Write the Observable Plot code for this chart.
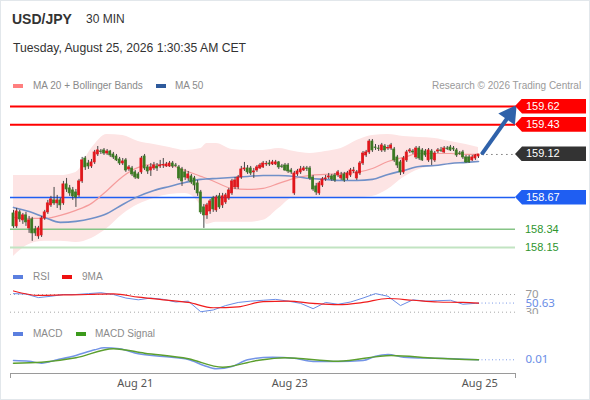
<!DOCTYPE html>
<html>
<head>
<meta charset="utf-8">
<script src="https://cdn.jsdelivr.net/npm/d3@7"></script>
<script src="https://cdn.jsdelivr.net/npm/@observablehq/plot@0.6"></script>
<style>
html,body{margin:0;padding:0;background:#fff;}
#wrap{position:relative;width:590px;height:400px;overflow:hidden;background:#fff;font-family:"Liberation Sans",Arial,Helvetica,sans-serif;}
.abs{position:absolute;white-space:nowrap;}
.sw{position:absolute;width:10px;height:4px;}
.lg{position:absolute;white-space:nowrap;font-size:10px;color:#8a8a8a;line-height:12px;}
.lbl{position:absolute;left:515px;width:71px;height:15px;line-height:15px;color:#fff;font-size:11px;padding-left:11px;box-sizing:border-box;clip-path:polygon(0 50%,7px 0,100% 0,100% 100%,7px 100%);}
.sup{position:absolute;left:525px;font-size:11px;line-height:14px;color:#2e952e;}
#frame{position:absolute;left:0;top:0;width:590px;height:400px;box-sizing:border-box;border:1px solid #e2e7eb;pointer-events:none;}
svg{position:absolute;left:0;}
</style>
</head>
<body>
<div id="wrap">
  <div class="abs" style="left:12px;top:11px;font-size:14px;font-weight:bold;color:#333;line-height:16px">USD/JPY</div>
  <div class="abs" style="left:86px;top:11px;font-size:12px;color:#333;line-height:16px">30 MIN</div>
  <div class="abs" style="left:13px;top:40px;font-size:12.2px;color:#333;line-height:16px">Tuesday, August 25, 2026 1:30:35 AM CET</div>

  <div class="sw" style="left:13px;top:84px;background:#ff7f7f"></div>
  <div class="lg" style="left:33px;top:80px">MA 20 + Bollinger Bands</div>
  <div class="sw" style="left:156px;top:84px;background:#2e5a9c"></div>
  <div class="lg" style="left:175px;top:80px">MA 50</div>
  <div class="lg" style="left:432px;top:80px;color:#9a9a9a">Research © 2026 Trading Central</div>

  <div class="sw" style="left:13px;top:275px;background:#5b7fdf"></div>
  <div class="lg" style="left:33px;top:271px">RSI</div>
  <div class="sw" style="left:62px;top:275px;background:#ee1111"></div>
  <div class="lg" style="left:82px;top:271px">9MA</div>

  <div class="sw" style="left:13px;top:332px;background:#5b7fdf"></div>
  <div class="lg" style="left:33px;top:328px">MACD</div>
  <div class="sw" style="left:76px;top:332px;background:#3c9a1c"></div>
  <div class="lg" style="left:95px;top:328px">MACD Signal</div>
</div>
<script>
// ---------- DATA ----------
const candleOpen = [
158.505,158.370,158.516,158.433,158.485,158.349,158.443,158.339,158.266,158.276,
158.453,158.516,158.589,158.641,158.610,158.641,158.610,158.808,158.766,158.745,
158.724,158.693,158.839,159.078,159.026,158.995,159.037,159.120,159.151,159.162,
159.130,159.151,159.120,159.099,159.068,159.026,159.058,158.964,158.974,158.933,
158.912,158.933,159.099,158.985,158.953,158.974,158.995,158.995,159.005,158.995,
158.995,159.026,159.005,158.985,158.964,158.933,158.870,158.891,158.870,158.818,
158.724,158.568,158.485,158.526,158.662,158.537,158.683,158.589,158.620,158.662,
158.714,158.776,158.776,158.880,158.964,158.974,158.974,158.933,158.953,158.974,
158.985,159.016,159.026,159.016,159.016,159.037,158.995,159.005,159.005,158.953,
158.714,158.912,158.933,158.953,158.974,158.974,158.880,158.787,158.714,158.797,
158.860,158.880,158.891,158.901,158.901,158.870,158.912,158.870,158.901,158.943,
158.870,158.922,159.026,159.110,159.141,159.255,159.193,159.182,159.162,159.203,
159.182,159.182,159.172,159.089,159.037,158.933,159.058,159.151,159.151,159.089,
159.182,159.162,159.151,159.058,159.151,159.058,159.151,159.162,159.141,159.182,
159.193,159.182,159.162,159.130,159.141,159.089,159.089,159.058,159.078,159.099];
const candleHigh = [
158.537,158.557,158.537,158.505,158.516,158.474,158.464,158.370,158.370,158.474,
158.537,158.641,158.683,158.776,158.693,158.662,158.839,158.870,158.797,158.776,
158.755,158.860,159.089,159.099,159.058,159.068,159.162,159.203,159.172,159.182,
159.172,159.162,159.141,159.120,159.089,159.078,159.078,159.005,158.995,158.953,
158.933,159.099,159.120,159.005,159.026,159.037,159.026,159.058,159.078,159.037,
159.047,159.047,159.026,159.005,158.985,158.964,158.943,158.912,158.891,158.849,
158.745,158.599,158.610,158.651,158.683,158.693,158.714,158.714,158.714,158.766,
158.860,158.880,158.901,158.995,159.037,159.005,158.995,158.974,159.005,159.026,
159.047,159.047,159.058,159.058,159.058,159.047,159.016,159.026,159.026,158.974,
158.943,158.964,158.995,158.995,158.995,158.995,158.901,158.818,158.839,158.880,
158.901,158.922,158.912,158.922,158.953,158.933,158.933,158.943,158.974,158.985,
158.953,159.047,159.151,159.162,159.276,159.276,159.224,159.214,159.235,159.224,
159.214,159.235,159.193,159.110,159.058,159.099,159.162,159.182,159.172,159.203,
159.203,159.182,159.172,159.182,159.172,159.151,159.182,159.193,159.203,159.203,
159.214,159.203,159.182,159.151,159.162,159.110,159.110,159.110,159.120,159.120];
const candleLow = [
158.349,158.349,158.412,158.391,158.370,158.297,158.214,158.266,158.235,158.255,
158.433,158.495,158.568,158.589,158.557,158.537,158.589,158.724,158.683,158.641,
158.568,158.672,158.818,158.953,158.964,158.974,159.016,159.099,159.120,159.110,
159.110,159.089,159.068,159.047,159.005,159.005,158.933,158.943,158.891,158.860,
158.860,158.912,158.953,158.912,158.891,158.953,158.943,158.974,158.974,158.985,
158.985,158.974,158.985,158.849,158.787,158.849,158.839,158.808,158.745,158.683,
158.495,158.349,158.443,158.495,158.516,158.516,158.547,158.557,158.599,158.641,
158.693,158.755,158.755,158.860,158.943,158.912,158.901,158.870,158.933,158.964,
158.974,158.995,158.995,159.005,159.005,158.964,158.974,158.943,158.922,158.912,
158.693,158.891,158.912,158.943,158.943,158.849,158.735,158.693,158.693,158.776,
158.839,158.860,158.839,158.828,158.880,158.849,158.828,158.849,158.880,158.922,
158.849,158.901,159.005,159.089,159.120,159.141,159.162,159.151,159.141,159.141,
159.162,159.162,159.037,158.974,158.901,158.912,159.037,159.130,159.120,159.068,
159.058,159.047,159.089,159.037,159.005,159.037,159.130,159.141,159.130,159.162,
159.151,159.151,159.089,159.110,159.068,159.026,159.026,159.047,159.058,159.078];
const candleClose = [
158.370,158.526,158.443,158.485,158.412,158.433,158.297,158.297,158.349,158.453,
158.516,158.610,158.651,158.610,158.641,158.589,158.808,158.755,158.714,158.683,
158.672,158.839,159.058,158.985,158.995,159.037,159.141,159.162,159.146,159.130,
159.151,159.110,159.089,159.058,159.026,159.047,158.953,158.985,158.912,158.880,
158.870,159.078,158.974,158.943,158.985,159.005,158.974,159.005,159.011,159.016,
159.026,158.995,159.000,158.870,158.839,158.880,158.912,158.828,158.797,158.714,
158.516,158.485,158.589,158.630,158.547,158.672,158.568,158.683,158.693,158.745,
158.839,158.849,158.880,158.964,158.974,158.933,158.922,158.943,158.985,159.005,
159.026,159.021,159.016,159.037,159.037,158.985,158.990,158.953,158.943,158.933,
158.922,158.943,158.964,158.974,158.969,158.870,158.755,158.724,158.818,158.860,
158.870,158.891,158.860,158.849,158.933,158.901,158.849,158.922,158.953,158.953,
158.933,159.026,159.130,159.141,159.255,159.162,159.188,159.177,159.214,159.162,
159.188,159.214,159.058,159.005,158.933,159.078,159.141,159.162,159.141,159.182,
159.078,159.058,159.110,159.162,159.068,159.130,159.162,159.157,159.182,159.177,
159.162,159.172,159.110,159.125,159.089,159.037,159.037,159.089,159.110,159.120];

// Bollinger / moving averages, read at candle indices
const bbIdx   = [0,5,10,15,20,25,30,35,40,45,50,55,60,62,65,70,75,80,85,90,95,100,105,110,115,120,125,130,135,140,145,149];
const bbUpper = [158.901,158.901,158.901,158.901,158.933,159.182,159.328,159.318,159.255,159.224,159.193,159.162,159.182,159.235,159.235,159.172,159.162,159.162,159.182,159.151,159.130,159.151,159.182,159.266,159.318,159.328,159.307,159.297,159.287,159.255,159.224,159.193];
const bbLower = [158.057,158.182,158.214,158.214,158.203,158.245,158.349,158.495,158.599,158.662,158.703,158.714,158.589,158.391,158.412,158.412,158.412,158.433,158.557,158.672,158.672,158.672,158.672,158.672,158.683,158.755,158.880,158.964,158.995,159.016,159.037,159.047];
const ma20    = [158.464,158.453,158.453,158.485,158.537,158.610,158.745,158.891,158.985,159.016,159.005,158.953,158.891,158.870,158.828,158.766,158.755,158.766,158.818,158.870,158.901,158.912,158.922,158.933,158.974,159.047,159.089,159.130,159.130,159.130,159.120,159.120];
const ma50    = [158.568,158.526,158.464,158.412,158.422,158.453,158.505,158.599,158.683,158.745,158.787,158.828,158.860,158.865,158.870,158.880,158.891,158.901,158.901,158.891,158.870,158.860,158.849,158.849,158.860,158.912,158.953,158.995,159.005,159.026,159.037,159.047];

// key levels
const resistances = [159.62, 159.43];
const lastPrice = 159.12;
const pivotLevel = 158.67;
const supports = [158.34, 158.15];

// RSI
const rsiIdx = [0,4,8,12,16,20,24,28,32,36,40,44,48,52,56,60,64,68,72,76,80,84,88,92,96,100,104,108,112,116,120,124,128,132,136,140,144,148,149];
const rsiVal = [72,71,63,66,70,70,72,74,70,62,58,62,59,53,55,31,35,45,52,55,57,59,55,50,38,52,48,53,62,72,66,45,58,55,56,57,48,50,50.63];
const rsiMAIdx = [0,8,16,24,32,40,48,56,64,72,80,88,96,104,112,120,128,136,144,149];
const rsiMAVal = [78,68,69,70,71.5,64,58,52,40,42,54,55,50,47,52,61,57,53,52,50.5];
const rsiLevels = [70, 30];
const rsiLast = 50.63;

// MACD
const macdIdx = [0,5,9,14,20,26,29,34,40,48,56,61,65,70,75,83,90,96,104,112,116,120,125,135,141,149];
const macdVal = [0.005,-0.002,-0.018,0.010,0.046,0.093,0.110,0.102,0.060,0.037,0.013,-0.037,-0.065,-0.046,0.010,0.032,0.023,-0.004,-0.004,0.004,0.040,0.054,0.032,0.023,0.018,0.010];
const sigIdx = [0,9,20,32,42,56,67,78,87,104,121,135,149];
const sigVal = [-0.018,-0.010,0.027,0.102,0.065,0.018,-0.052,0.004,0.027,-0.002,0.046,0.023,0.010];
const macdLast = 0.01;

// x axis
const tickIdx = [39, 88.5, 149.4];
const tickLabels = ["Aug 21", "Aug 23", "Aug 25"];

// ---------- BUILD ----------
const wrap = document.getElementById("wrap");
const xDomain = [0, 149], xRange = [13, 478];
const xLin = d3.scaleLinear(xDomain, xRange);
const xEnd = xLin.invert(515), xStart = xLin.invert(10);
const lastIdx = candleOpen.length - 1;

const candles = candleOpen.map((o, i) => ({i, open: o, high: candleHigh[i], low: candleLow[i], close: candleClose[i], up: candleClose[i] >= o}));
const band = bbIdx.map((i, k) => ({i, upper: bbUpper[k], lower: bbLower[k], ma20: ma20[k], ma50: ma50[k]}));
const UP = "#e3161b", DOWN = "#3b7a22";
const ARROW = "#2f62aa";

const common = {width: 590, marginLeft: 10, marginRight: 75, marginTop: 0, marginBottom: 0,
  style: {background: "transparent", overflow: "visible"}};

// arrow from last close to the first target
const arrowFrom = {i: lastIdx + 1, p: lastPrice};
const arrowTip = {i: xEnd - 0.3, p: resistances[0] - 0.015};
const arrowShaftEnd = {i: arrowFrom.i + (arrowTip.i - arrowFrom.i) * 0.8, p: arrowFrom.p + (arrowTip.p - arrowFrom.p) * 0.8};
const arrowHead = {i: arrowFrom.i + (arrowTip.i - arrowFrom.i) * 0.86, p: arrowFrom.p + (arrowTip.p - arrowFrom.p) * 0.86};

const mainTop = 96;
const main = Plot.plot({
  ...common, height: 170,
  x: {domain: xDomain, range: xRange, axis: null},
  y: {domain: [157.9519, 159.7243], range: [170, 0], axis: null},
  marks: [
    Plot.areaY(band, {x: "i", y1: "lower", y2: "upper", fill: "#fde4e4", curve: "monotone-x"}),
    Plot.ruleY(resistances, {stroke: "#ff0000", strokeWidth: 2}),
    Plot.ruleY([pivotLevel], {stroke: "#1f5ef2", strokeWidth: 1.5}),
    Plot.ruleY([supports[0]], {stroke: "#86c486", strokeWidth: 1.5}),
    Plot.ruleY([supports[1]], {stroke: "#c2e4c2", strokeWidth: 2}),
    Plot.line(band, {x: "i", y: "ma20", stroke: "#f59c9c", strokeWidth: 1.2, curve: "monotone-x"}),
    Plot.line(band, {x: "i", y: "ma50", stroke: "#7190c8", strokeWidth: 1.6, curve: "monotone-x"}),
    Plot.ruleX(candles, {x: "i", y1: "low", y2: "high", stroke: "#444", strokeWidth: 1}),
    Plot.rect(candles, {x1: d => d.i - 0.33, x2: d => d.i + 0.33, y1: "open", y2: "close",
      fill: d => d.up ? UP : DOWN, stroke: d => d.up ? UP : DOWN, strokeWidth: 0.7}),
    Plot.ruleY([lastPrice], {x1: lastIdx + 1, x2: xEnd, stroke: "#777", strokeDasharray: "1.5,3.5"}),
    Plot.link([{a: arrowFrom.i, b: arrowFrom.p, c: arrowShaftEnd.i, d: arrowShaftEnd.p}],
      {x1: "a", y1: "b", x2: "c", y2: "d", stroke: ARROW, strokeWidth: 4, strokeLinecap: "butt"}),
    Plot.dot([arrowHead], {x: "i", y: "p", symbol: "triangle", r: 7.5, fill: ARROW, stroke: "none", rotate: 35})
  ]
});
main.style.top = mainTop + "px";
wrap.appendChild(main);

const yM = main.scale("y");
function priceBox(v, bg, txt) {
  const d = document.createElement("div");
  d.className = "lbl";
  d.style.background = bg;
  d.style.top = (mainTop + yM.apply(v) - 7.5) + "px";
  d.textContent = txt;
  wrap.appendChild(d);
}
priceBox(resistances[0], "#ff0000", resistances[0].toFixed(2));
priceBox(resistances[1], "#ff0000", resistances[1].toFixed(2));
priceBox(lastPrice, "#333333", lastPrice.toFixed(2));
priceBox(pivotLevel, "#1f5ef2", pivotLevel.toFixed(2));
supports.forEach(v => {
  const d = document.createElement("div");
  d.className = "sup";
  d.style.top = (mainTop + yM.apply(v) - 7) + "px";
  d.textContent = v.toFixed(2);
  wrap.appendChild(d);
});

// RSI panel
const rsiData = rsiIdx.map((i, k) => ({i, v: rsiVal[k]}));
const rsiMAData = rsiMAIdx.map((i, k) => ({i, v: rsiMAVal[k]}));
const rsiText = [{v: 70, t: "70", c: "#9a9a9a"}, {v: 30, t: "30", c: "#9a9a9a"}, {v: rsiLast, t: rsiLast.toFixed(2), c: "#6a8de6"}];
const rsi = Plot.plot({
  ...common, height: 24,
  style: {background: "transparent", overflow: "hidden"},
  x: {domain: xDomain, range: xRange, axis: null},
  y: {domain: [24.8, 79.04], range: [24, 0], axis: null},
  marks: [
    Plot.ruleY(rsiLevels, {stroke: "#a8a8a8", strokeDasharray: "1,3"}),
    Plot.ruleY([rsiLast], {x1: lastIdx, x2: xEnd, stroke: "#7d9be8", strokeDasharray: "1,2.5"}),
    Plot.line(rsiData, {x: "i", y: "v", stroke: "#6a8de6", strokeWidth: 1, curve: "linear"}),
    Plot.line(rsiMAData, {x: "i", y: "v", stroke: "#f01c1c", strokeWidth: 1.2, curve: "monotone-x"}),
    Plot.text(rsiText, {y: "v", text: "t", fill: "c", frameAnchor: "right", dx: 10, textAnchor: "start", fontSize: 11.5})
  ]
});
rsi.style.top = "290px";
wrap.appendChild(rsi);

// MACD panel
const macdData = macdIdx.map((i, k) => ({i, v: macdVal[k]}));
const sigData = sigIdx.map((i, k) => ({i, v: sigVal[k]}));
const macd = Plot.plot({
  ...common, height: 30,
  x: {domain: xDomain, range: xRange, axis: null},
  y: {domain: [-0.1042, 0.1458], range: [30, 0], axis: null},
  marks: [
    Plot.ruleY([macdLast], {x1: lastIdx, x2: xEnd, stroke: "#7d9be8", strokeDasharray: "1,2.5"}),
    Plot.line(macdData, {x: "i", y: "v", stroke: "#7394e6", strokeWidth: 1.5, curve: "monotone-x"}),
    Plot.line(sigData, {x: "i", y: "v", stroke: "#5c9f2e", strokeWidth: 1.5, curve: "monotone-x"}),
    Plot.text([macdLast], {y: d => d, text: d => d.toFixed(2), fill: "#6a8de6", frameAnchor: "right", dx: 10, textAnchor: "start", fontSize: 11.5})
  ]
});
macd.style.top = "343px";
wrap.appendChild(macd);

// X axis
const ticks = tickIdx.map((i, k) => ({i, t: tickLabels[k]}));
const axis = Plot.plot({
  ...common, height: 24,
  x: {domain: xDomain, range: xRange, axis: null},
  y: {domain: [0, 1], range: [5, 10], axis: null},
  marks: [
    Plot.ruleY([0], {x1: xStart, x2: xEnd, stroke: "#9a9a9a", strokeWidth: 1}),
    Plot.ruleX([xStart, xEnd], {y1: 0, y2: 1, stroke: "#9a9a9a", strokeWidth: 1}),
    Plot.text(ticks, {x: "i", y: () => 2, text: "t", fill: "#555", fontSize: 11})
  ]
});
axis.style.top = "368px";
wrap.appendChild(axis);

const fr = document.createElement("div");
fr.id = "frame";
wrap.appendChild(fr);
</script>
</body>
</html>
